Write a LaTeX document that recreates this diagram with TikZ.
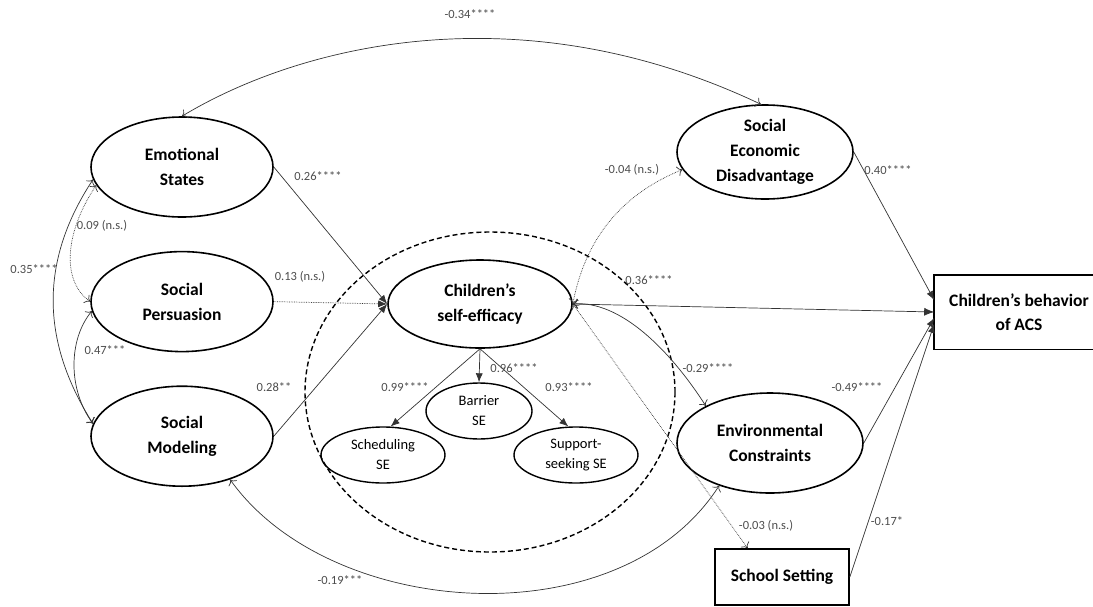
\documentclass[tikz,border=0pt]{standalone}
\usepackage{fontspec}
\setmainfont{Carlito}
\usetikzlibrary{shapes.geometric,arrows.meta,positioning}

\tikzset{
  latent/.style={ellipse, draw, line width=1.6pt, inner sep=0pt, align=center,
    minimum width=182pt, minimum height=100pt, font=\bfseries\fontsize{17.5}{25}\selectfont},
  facet/.style={ellipse, draw, line width=1.4pt, inner sep=0pt, align=center,
    minimum width=124pt, minimum height=56pt, font=\fontsize{14.5}{20}\selectfont},
  observed/.style={rectangle, draw, line width=1.6pt, inner sep=0pt, align=center,
    font=\bfseries\fontsize{17.5}{24}\selectfont},
  grpbox/.style={ellipse, draw, dash pattern=on 5pt off 3pt, line width=1.4pt, inner sep=0pt,
    minimum width=370pt, minimum height=320pt},
  coef/.style={font=\fontsize{12.5}{13}\selectfont, text=black!70, inner sep=1pt},
  effect/.style={draw=black!80, line width=0.7pt, -{Latex[length=9pt,width=7pt]}},
  cov/.style={draw=black!80, line width=0.7pt, {To[length=5pt,width=10pt]}-{To[length=5pt,width=10pt]}},
  covfill/.style={draw=black!80, line width=0.7pt, {To[length=5pt,width=10pt]}-{Latex[length=10pt,width=8pt]}},
  ns/.style={densely dotted}
}

\begin{document}
\begin{tikzpicture}[x=1pt,y=-1pt]
\useasboundingbox (0,0) rectangle (1093,606);
\node[grpbox] (grp) at (490,392) {};
\node[latent] (es) at (182,167) {Emotional\\States};
\node[latent, below=33pt of es] (sp) {Social\\Persuasion};
\node[latent, below=33pt of sp] (sm) {Social\\Modeling};
\node[latent, minimum width=184pt, minimum height=88pt] (cse) at (480,304) {Children’s\\self-efficacy};
\node[facet, minimum width=106pt] (bar) at (479,411) {Barrier\\SE};
\node[facet] (sch) at (383,455) {Scheduling\\SE};
\node[facet] (sup) at (576,455) {Support-\\seeking SE};
\node[latent, minimum width=176pt, minimum height=94pt] (sed) at (765,152) {Social\\Economic\\Disadvantage};
\node[latent, minimum width=186pt] (ec) at (770,443) {Environmental\\Constraints};
\node[observed, minimum width=134pt, minimum height=56pt] (ss) at (782,577) {School Setting};
\node[observed, draw=none, minimum width=168pt, minimum height=73pt] (acs) at (1019,312) {Children’s behavior\\of ACS};
\draw[line width=1.6pt] (acs.north west) ++(200,0) -- (acs.north west) -- (acs.south west) -- ++(200,0);

\draw[cov] (es.north) .. controls (300,45) and (520,-10) .. (sed.95);
\draw[cov] (es.188) .. controls (40,260) and (40,340) .. (sm.172);
\draw[cov, ns] (es.192) .. controls (66,230) and (60,280) .. (sp.west);
\draw[cov] (sp.186) .. controls (68,340) and (68,390) .. (sm.172);
\draw[effect] (es.east) -- (cse.west);
\draw[effect, ns] (sp.east) -- (cse.west);
\draw[effect] (sm.east) -- (cse.west);
\draw[effect] (cse.south) -- (bar.north);
\draw[effect] (cse.south) -- (sch.75);
\draw[effect] (cse.south) -- (sup.105);
\draw[cov, ns] (cse.east) .. controls (585,240) and (620,195) .. (sed.192);
\draw[covfill] (cse.east) -- (acs.west);
\draw[cov] (cse.east) .. controls (620,300) and (670,350) .. (ec.150);
\draw[cov, ns] (cse.east) -- (ss.140);
\draw[effect] (sed.east) -- (acs.172);
\draw[effect] (ec.east) -- (acs.184);
\draw[effect] (ss.east) -- (acs.188);
\draw[cov] (sm.-42) .. controls (330,620) and (620,640) .. (ec.220);

\node[coef] (l1) at (470,14) {-0.34****};
\node[coef] (l2) at (318,176) {0.26****};
\node[coef] (l3) at (102,226) {0.09 (n.s.)};
\node[coef] (l4) at (34,269) {0.35****};
\node[coef] (l5) at (300,277) {0.13 (n.s.)};
\node[coef] (l6) at (105,350) {0.47***};
\node[coef] (l7) at (274,387) {0.28**};
\node[coef] (l8) at (405,387) {0.99****};
\node[coef] (l9) at (514,368) {0.96****};
\node[coef] (l10) at (569,387) {0.93****};
\node[coef] (l11) at (632,170) {-0.04 (n.s.)};
\node[coef] (l12) at (888,170) {0.40****};
\node[coef] (l13) at (649,280) {0.36****};
\node[coef] (l14) at (708,368) {-0.29****};
\node[coef] (l15) at (857,387) {-0.49****};
\node[coef] (l16) at (766,526) {-0.03 (n.s.)};
\node[coef] (l17) at (887,521) {-0.17*};
\node[coef] (l18) at (340,580) {-0.19***};
\end{tikzpicture}
\end{document}
